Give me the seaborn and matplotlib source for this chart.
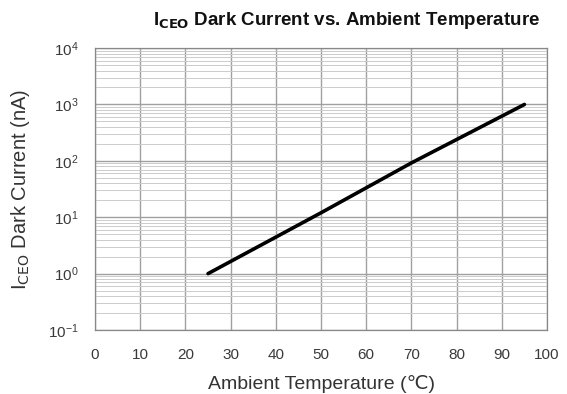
import numpy as np
import pandas as pd
import matplotlib
matplotlib.use("Agg")
import matplotlib.pyplot as plt
import matplotlib.ticker as mticker
import seaborn as sns

# values
temperature = [25, 50, 70, 95]
dark_current = [1.0, 12.0, 92.0, 1000.0]
x_ticks = list(range(0, 101, 10))
y_ticks = [0.1, 1, 10, 100, 1000, 10000]

sns.set_style("white")
plt.rcParams['font.family'] = ['Liberation Sans', 'DejaVu Sans']

df = pd.DataFrame({"temp": temperature, "current": dark_current})

fig = plt.figure(figsize=(5.67, 3.94), dpi=100)
ax = fig.add_axes([0.1676, 0.1624, 0.7972, 0.7156])

sns.lineplot(data=df, x="temp", y="current", ax=ax, color="black", linewidth=2.6)
ax.set_yscale("log")
ax.set_xlim(0, 100)
ax.set_ylim(0.1, 10000)
ax.set_xticks(x_ticks)
ax.set_yticks(y_ticks)
ax.yaxis.set_major_formatter(mticker.LogFormatterMathtext())
ax.yaxis.set_minor_locator(mticker.LogLocator(base=10, subs=np.arange(2, 10)))
ax.yaxis.set_minor_formatter(mticker.NullFormatter())

ax.grid(True, which="major", axis="both", color="#a0a0a0", linewidth=1.0)
ax.grid(True, which="minor", axis="y", color="#cccccc", linewidth=0.7)
ax.tick_params(which="both", length=0, labelsize=11, colors="#3a3a3a")
ax.tick_params(axis="x", pad=13)
ax.tick_params(axis="y", pad=12)
for s in ax.spines.values():
    s.set_color("#888888")
    s.set_linewidth(0.9)

ax.set_xlabel("Ambient Temperature (\u2103)", fontsize=14, color="#333333", labelpad=9)
ax.set_ylabel("I$_{\\mathrm{CEO}}$ Dark Current (nA)", fontsize=14.5, color="#333333", labelpad=11)
fig.text(0.953, 0.948, "I$_{\\mathbf{CEO}}$ Dark Current vs. Ambient Temperature",
         ha="right", va="center", fontsize=13.5, fontweight="bold", color="#111111")

fig.savefig("out.png", dpi=100)
